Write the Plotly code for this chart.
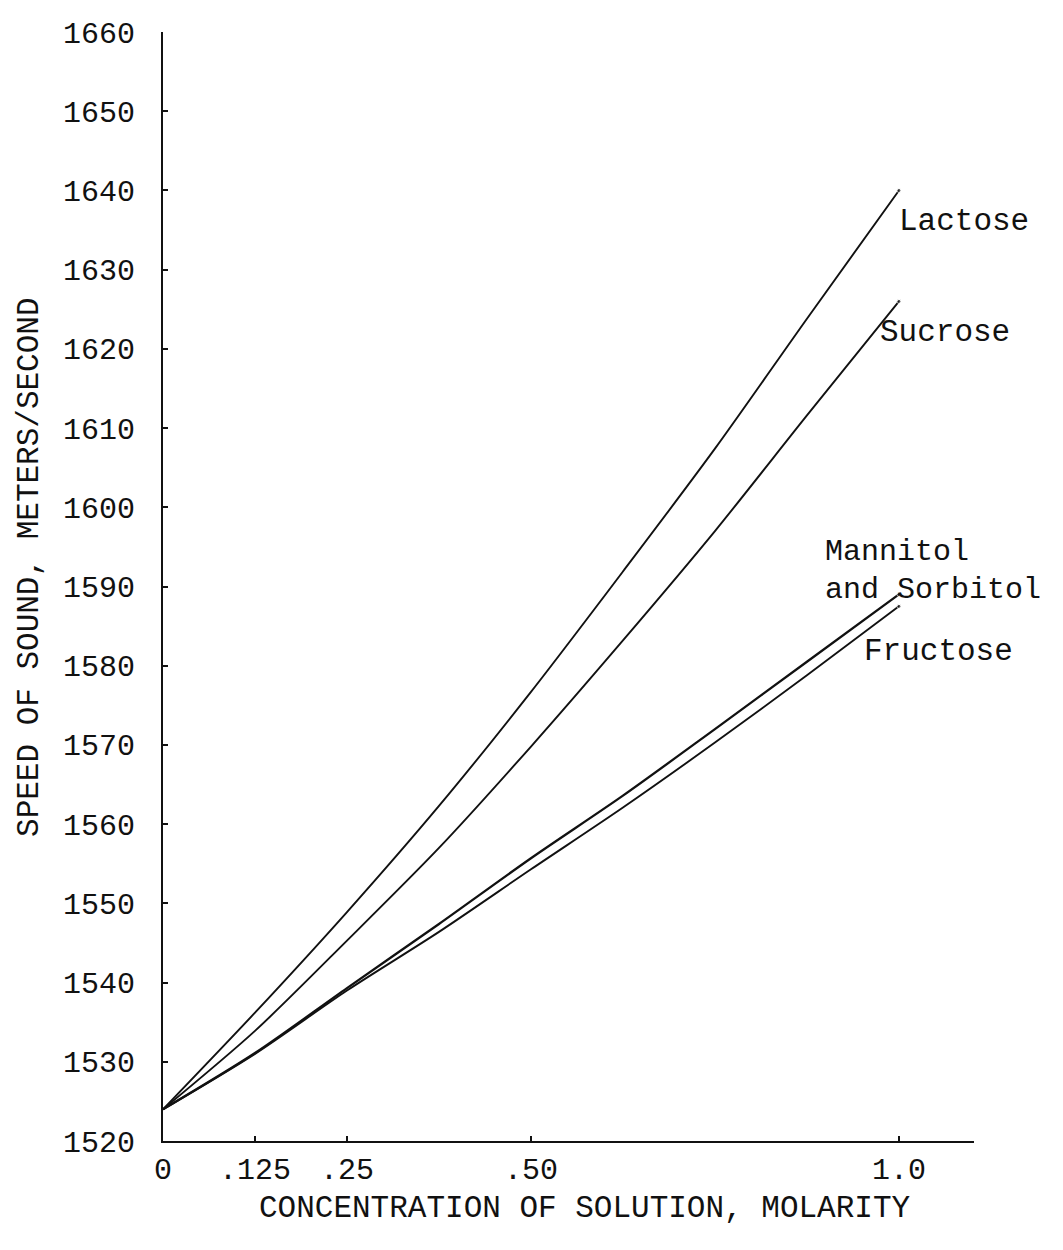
import plotly.graph_objects as go

# Concentration of solution (molarity)
molarity = [0, 0.125, 0.25, 0.375, 0.5, 0.625, 0.75, 0.875, 1.0]

# Speed of sound (m/s) for each sugar solution
lactose = [1524.0, 1536.2, 1548.9, 1562.3, 1576.7, 1591.9, 1607.4, 1623.8, 1640.0]
sucrose = [1524.0, 1533.9, 1545.3, 1557.0, 1569.8, 1583.2, 1597.0, 1611.6, 1626.0]
mannitol_sorbitol = [1524.0, 1531.1, 1539.3, 1547.4, 1555.7, 1563.6, 1572.0, 1580.5, 1589.0]
fructose = [1524.0, 1531.0, 1539.0, 1546.4, 1554.3, 1562.1, 1570.3, 1578.8, 1587.5]

x_tickvals = [0, 0.125, 0.25, 0.5, 1.0]
x_ticktext = ["0", ".125", ".25", ".50", "1.0"]
y_tickvals = list(range(1520, 1661, 10))

FONT = "Liberation Mono, DejaVu Sans Mono, monospace"
INK = "#111111"

fig = go.Figure()

for values, width in [(lactose, 1.9), (sucrose, 1.9), (mannitol_sorbitol, 2.3), (fructose, 1.9)]:
    sizes = [0] * (len(values) - 1) + [4]
    fig.add_trace(go.Scatter(
        x=molarity, y=values, mode="lines+markers",
        line=dict(color=INK, width=width, shape="spline", smoothing=0.8),
        marker=dict(size=sizes, color=INK),
        showlegend=False, hoverinfo="skip",
    ))

labels = [
    ("Lactose", 0.997, 1636.1, 31),
    ("Sucrose", 0.971, 1622.1, 31),
    ("Mannitol", 0.897, 1594.3, 30),
    ("and Sorbitol", 0.897, 1589.6, 30),
    ("Fructose", 0.950, 1581.9, 31),
]
for text, lx, ly, size in labels:
    fig.add_annotation(x=lx, y=ly, text=text, showarrow=False,
                       xanchor="left", yanchor="middle", height=28,
                       font=dict(family=FONT, size=size, color=INK))

fig.add_annotation(xref="paper", yref="paper", x=0.520, y=-0.0613,
                   text="CONCENTRATION OF SOLUTION, MOLARITY", showarrow=False,
                   xanchor="center", yanchor="middle",
                   font=dict(family=FONT, size=31, color=INK))
fig.add_annotation(xref="paper", yref="paper", x=-0.164, y=0.5176,
                   text="SPEED OF SOUND, METERS/SECOND", showarrow=False,
                   textangle=-90, xanchor="center", yanchor="middle",
                   font=dict(family=FONT, size=31, color=INK))

fig.update_xaxes(
    range=[0, 1.102], tickvals=x_tickvals, ticktext=x_ticktext,
    showline=True, linecolor=INK, linewidth=2.2, showgrid=False, zeroline=False,
    ticks="inside", ticklen=5, tickwidth=1.5, tickcolor=INK,
    tickfont=dict(family=FONT, size=30, color=INK),
)
fig.update_yaxes(
    range=[1520, 1660], tickvals=y_tickvals,
    showline=True, linecolor=INK, linewidth=2.2, showgrid=False, zeroline=False,
    ticks="inside", ticklen=5, tickwidth=1.5, tickcolor=INK,
    ticklabelstandoff=20,
    tickfont=dict(family=FONT, size=30, color=INK),
)

fig.update_layout(
    width=1063, height=1250,
    margin=dict(l=163, r=89, t=32, b=109),
    paper_bgcolor="white", plot_bgcolor="white",
)

fig.write_html("out.html")
